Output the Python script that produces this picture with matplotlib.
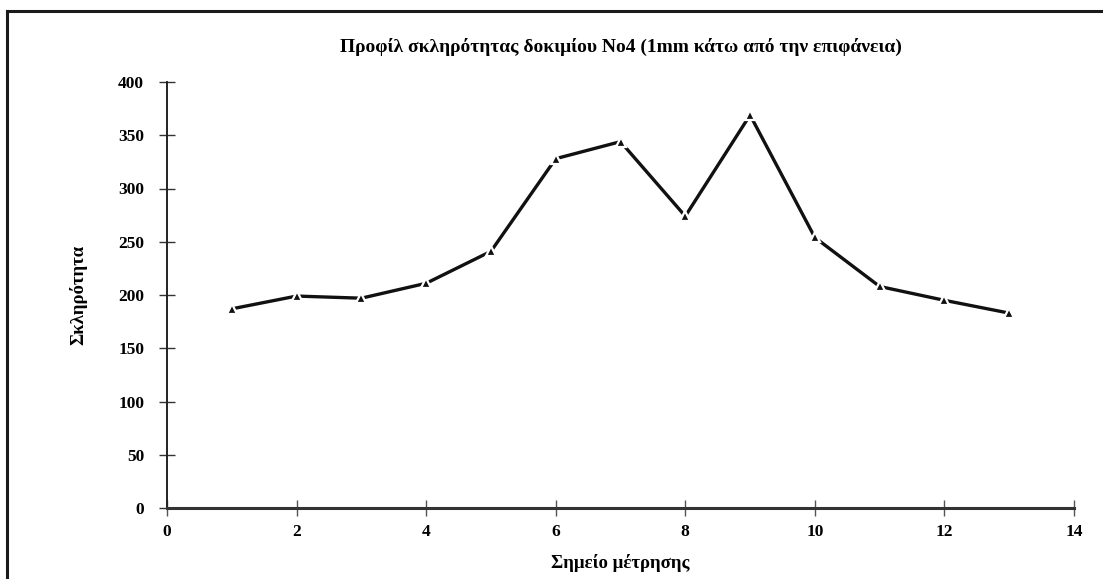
import matplotlib
matplotlib.use("Agg")
import matplotlib.pyplot as plt
from matplotlib.lines import Line2D

# Hardness profile, specimen No4, 1 mm below the surface
points = [1, 2, 3, 4, 5, 6, 7, 8, 9, 10, 11, 12, 13]
hardness = [187, 199, 197, 211, 241, 328, 344, 274, 369, 254, 208, 195, 183]
x_ticks = [0, 2, 4, 6, 8, 10, 12, 14]
y_ticks = [0, 50, 100, 150, 200, 250, 300, 350, 400]

title = "Προφίλ σκληρότητας δοκιμίου Νο4 (1mm κάτω από την επιφάνεια)"
xlabel = "Σημείο μέτρησης"
ylabel = "Σκληρότητα"

plt.rcParams["font.family"] = ["Liberation Serif", "DejaVu Serif"]
plt.rcParams["font.weight"] = "bold"

fig = plt.figure(figsize=(11.03, 5.79), dpi=100)
fig.patch.set_facecolor("white")
ax = fig.add_axes([167 / 1103, 71 / 579, (1074 - 167) / 1103, (508 - 82) / 579])

ax.plot(points, hardness, color="#111111", linewidth=2.4, marker="^",
        markersize=7.5, markerfacecolor="#111111", markeredgecolor="white",
        markeredgewidth=1.6, solid_joinstyle="miter", zorder=3)

ax.set_xlim(0, 14)
ax.set_ylim(0, 400)
ax.set_xticks(x_ticks)
ax.set_yticks(y_ticks)
ax.set_xticklabels([str(v) for v in x_ticks], fontsize=12.5, fontweight="bold")
ax.set_yticklabels([str(v) for v in y_ticks], fontsize=12.5, fontweight="bold")
ax.tick_params(axis="y", direction="inout", length=11, width=1.0,
               color="#333333", pad=11)
ax.tick_params(axis="x", direction="inout", length=11, width=1.0,
               color="#555555", pad=6)

for side in ("top", "right"):
    ax.spines[side].set_visible(False)
ax.spines["left"].set_linewidth(1.4)
ax.spines["left"].set_color("#222222")
ax.spines["bottom"].set_linewidth(2.2)
ax.spines["bottom"].set_color("#333333")

ax.set_xlabel(xlabel, fontsize=13.5, fontweight="bold", labelpad=10)
ax.set_ylabel(ylabel, fontsize=13.5, fontweight="bold", labelpad=22)
ax.set_title(title, fontsize=14, fontweight="bold", pad=22)

# Outer frame around the chart
fig.add_artist(Line2D([7 / 1103, 7 / 1103], [0, 1 - 11 / 579],
                      transform=fig.transFigure, color="#1a1a1a", linewidth=2.2))
fig.add_artist(Line2D([7 / 1103, 1], [1 - 11 / 579, 1 - 11 / 579],
                      transform=fig.transFigure, color="#1a1a1a", linewidth=2.2))

fig.savefig("out.png", dpi=100, facecolor="white")
